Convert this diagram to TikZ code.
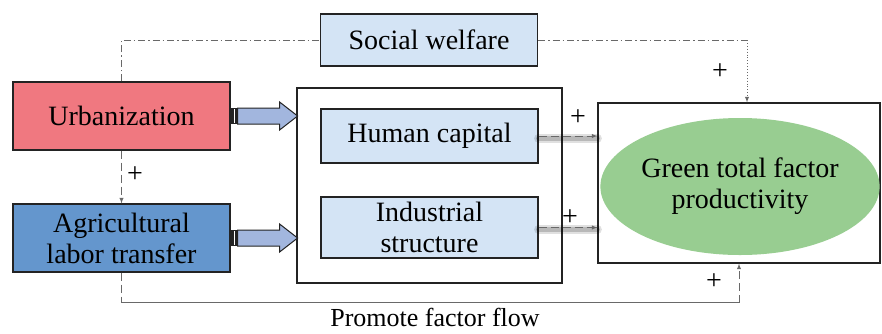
\documentclass[tikz,border=0pt]{standalone}
\usepackage{fontspec}
\setmainfont{Liberation Serif}
\usetikzlibrary{positioning}
\usetikzlibrary{calc}
\usetikzlibrary{shapes.geometric}
\definecolor{boxline}{RGB}{35,35,35}
\definecolor{mygray}{RGB}{105,105,105}
\definecolor{myred}{RGB}{240,120,128}
\definecolor{myblue}{RGB}{100,150,205}
\definecolor{mylightblue}{RGB}{212,228,245}
\definecolor{mygreen}{RGB}{152,205,145}
\definecolor{myarrow}{RGB}{162,182,222}
\newcommand{\boxfont}{\fontsize{28}{31}\selectfont}
\tikzset{
    common/.style={draw=boxline, line width=1.2pt, rectangle, align=center, font=\boxfont, inner sep=0pt},
    factor/.style={common, minimum width=217pt, minimum height=68pt},
    channel/.style={common, fill=mylightblue, minimum width=217pt},
    frame/.style={draw=boxline, line width=1.2pt, rectangle, inner sep=0pt},
    link/.style={draw=mygray, line width=0.9pt, -latex},
    dashdot/.style={dash pattern=on 7pt off 3pt on 1.5pt off 3pt},
    longdash/.style={dash pattern=on 8pt off 4pt},
    sign/.style={font=\boxfont, inner sep=1pt},
    fatarrow/.style={draw=boxline, line width=1pt, fill=myarrow, line join=miter},
    haze/.style={draw=black, line cap=round, transform canvas={yshift=-2pt}},
}

\begin{document}
\begin{tikzpicture}[x=1pt, y=-1pt]
    \useasboundingbox (0,0) rectangle (882,333);

    % drivers on the left
    \node[factor, fill=myred] (urban) at (121.5,116) {Urbanization};
    \node[factor, fill=myblue] (agri) at (121.5,238) {Agricultural\\labor transfer};

    % mediating channels
    \node[channel, minimum height=52pt] (welfare) at (429,40) {Social welfare};
    \node[frame, minimum width=265pt, minimum height=195pt] (mid) at (429.5,185.5) {};
    \node[channel, minimum height=54pt] (human) at (429.5,136) {Human capital};
    \node[channel, minimum height=61pt] (industry) at (429.5,227.5) {Industrial\\structure};

    % outcome
    \node[frame, minimum width=282pt, minimum height=160pt] (outer) at (739,183) {};
    \node[ellipse, fill=mygreen, inner sep=0pt, minimum width=276pt, minimum height=137pt,
          font=\boxfont, align=center] (gtfp) at (740,186.5) {Green total factor\\productivity};

    % block arrows into the channel frame
    \foreach \src in {urban, agri} {
        \fill[boxline] (\src.east) ++(0,-8) rectangle ++(7,16);
        \draw[white, line width=0.6pt] (\src.east) ++(4,-7) -- ++(0,14);
        \draw[fatarrow] (\src.east) ++(7,-8) -- ++(42,0) -- ++(0,-6) -- ++(18,14)
            -- ++(-18,14) -- ++(0,-6) -- ++(-42,0) -- cycle;
    }

    % social welfare path
    \coordinate (topin) at ([xshift=8pt]outer.north);
    \coordinate (wturn) at (topin |- welfare.east);
    \draw[link, -, dashdot] (urban.north) |- (welfare.west);
    \draw[link, -, dashdot] (welfare.east) -- (wturn);
    \draw[link, dotted] (wturn) -- (topin);
    \node[sign] at (720,72) {+};

    % urbanization drives labor transfer
    \draw[link, longdash] (urban.south) -- (agri.north);
    \node[sign] at (135,175) {+};

    % channels into productivity
    \foreach \ch/\px/\py in {human/578/118, industry/570/218} {
        \draw[haze, opacity=0.12, line width=9pt] (\ch.east) -- (\ch.east -| outer.west);
        \draw[haze, opacity=0.18, line width=5pt] (\ch.east) -- (\ch.east -| outer.west);
        \draw[link, longdash] (\ch.east) -- (\ch.east -| outer.west);
        \node[sign] at (\px,\py) {+};
    }

    % factor flow path
    \coordinate (botin) at (outer.south);
    \draw[link, -, longdash] (agri.south) -- ++(0,30) coordinate (bturn);
    \draw[link, -] (bturn) -- (bturn -| botin);
    \draw[link, longdash] (bturn -| botin) -- (botin);
    \node[sign] at (714,282) {+};
    \node[font=\fontsize{26}{28}\selectfont, anchor=base, inner sep=0pt] (flow) at (435,326) {Promote factor flow};
\end{tikzpicture}
\end{document}
